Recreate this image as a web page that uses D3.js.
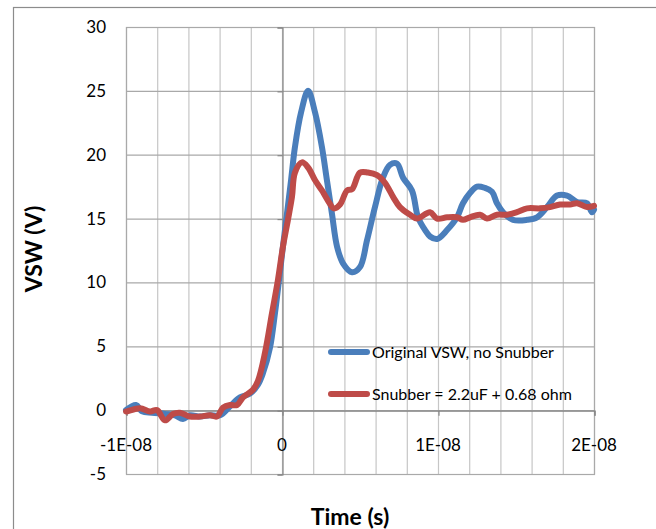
<!DOCTYPE html>
<html><head><meta charset="utf-8">
<script src="https://cdn.jsdelivr.net/npm/d3@7"></script>
<style>body{margin:0;background:#fff}svg{display:block}</style>
</head><body>
<svg id="chart" width="656" height="529"></svg>
<script>
// time in ns, voltage in V
const blueT = [-10.0,-9.36,-8.97,-8.33,-7.5,-6.86,-6.35,-5.9,-5.26,-4.62,-3.97,-3.33,-2.69,-2.05,-1.54,-1.22,-0.77,-0.45,-0.19,0.06,0.32,0.58,0.83,1.22,1.67,2.12,2.56,2.88,3.2,3.53,3.91,4.49,5.0,5.45,5.96,6.47,6.92,7.37,7.76,8.33,8.72,9.17,9.49,9.94,10.58,11.22,11.6,12.05,12.5,13.01,13.46,13.78,14.17,14.81,15.71,16.35,16.99,17.63,18.27,18.91,19.55,19.87,20.0];
const blueV = [0,0.4,-0.1,-0.2,-0.3,-0.4,-0.7,-0.4,-0.5,-0.4,-0.4,0.3,1.0,1.3,2.0,2.9,4.9,7.6,10.2,12.8,15.4,18,20.6,23.3,25.0,23.3,20.6,18,15.4,12.8,11.5,10.8,11.2,13.3,15.9,18.2,19.2,19.3,18.2,17.2,15.1,14.1,13.6,13.4,14.1,15.1,16.2,17,17.5,17.4,17.1,16.2,15.5,14.9,14.9,15.1,15.9,16.8,16.8,16.3,16.2,15.5,15.7];
const redT = [-10.0,-9.94,-9.1,-8.46,-8.01,-7.5,-6.99,-6.54,-5.9,-5.26,-4.62,-4.17,-3.78,-3.33,-2.88,-2.5,-1.86,-1.54,-1.09,-0.64,-0.26,0.06,0.38,0.64,0.83,1.28,1.67,2.12,2.56,2.95,3.33,3.72,4.17,4.49,5.0,5.51,6.09,6.6,7.12,7.56,8.21,8.65,9.49,9.94,10.58,11.22,11.6,12.05,12.69,13.14,13.78,14.42,15.06,15.71,16.54,17.18,17.82,18.46,18.91,19.55,20.0];
const redV = [-0.1,-0.1,0.15,-0.1,0,-0.8,-0.3,-0.2,-0.5,-0.5,-0.4,-0.5,0.2,0.4,0.4,1.0,1.6,2.3,4.5,7.6,10.2,12.8,14.9,16.7,18.6,19.4,19.0,18.0,17.2,16.4,15.8,16.1,17.2,17.3,18.6,18.6,18.4,17.8,16.7,15.9,15.3,15.0,15.5,15.0,15.1,15.1,14.9,15.1,15.3,15.0,15.3,15.3,15.5,15.8,15.8,15.9,16.1,16.1,16.2,15.9,16.0];
const xTickVals = [-10,0,10,20];
const xTickLabels = ["-1E-08","0","1E-08","2E-08"];
const yTickVals = [-5,0,5,10,15,20,25,30];
const seriesNames = ["Original VSW, no Snubber","Snubber = 2.2uF + 0.68 ohm"];
const seriesColors = ["#4a7ebb","#be4b48"];

const svg = d3.select("#chart");
const L=126, R=594, T=27, B=474;
const x = d3.scaleLinear().domain([-10,20]).range([L,R]);
const y = d3.scaleLinear().domain([-5,30]).range([B,T]);
const font = "Lato, 'Liberation Sans', sans-serif";

// outer border
svg.append("rect").attr("x",13.5).attr("y",7.5).attr("width",700).attr("height",600)
  .attr("fill","none").attr("stroke","#8c8c8c").attr("stroke-width",1.2);

const g = svg.append("g");
g.selectAll(".vg").data(d3.range(-10,20.01,2)).join("line")
  .attr("x1",d=>x(d)+0.5).attr("x2",d=>x(d)+0.5).attr("y1",T).attr("y2",B)
  .attr("stroke","#c6c6c6").attr("stroke-width",1.2);
g.selectAll(".hg").data(yTickVals).join("line")
  .attr("x1",L).attr("x2",R).attr("y1",d=>y(d)+0.5).attr("y2",d=>y(d)+0.5)
  .attr("stroke","#a9a9a9").attr("stroke-width",1.2);
svg.append("rect").attr("x",L+0.5).attr("y",T+0.5).attr("width",R-L).attr("height",B-T)
  .attr("fill","none").attr("stroke","#a9a9a9").attr("stroke-width",1.2);

// axes crossing at zero
const xAxis = d3.axisBottom(x).tickValues(xTickVals).tickSize(5).tickFormat("");
svg.append("g").attr("transform",`translate(0.5,${y(0)+0.5})`).call(xAxis)
  .call(s=>{s.selectAll("path,line").attr("stroke","#868686").attr("stroke-width",1.2);});
const yAxis = d3.axisLeft(y).tickValues(yTickVals).tickSize(5).tickFormat("");
svg.append("g").attr("transform",`translate(${x(0)+0.5},0.5)`).call(yAxis)
  .call(s=>{s.selectAll("path,line").attr("stroke","#868686").attr("stroke-width",1.2);});

// tick labels
svg.selectAll(".xl").data(xTickVals).join("text")
  .attr("x",d=>x(d)).attr("y",451).attr("text-anchor","middle")
  .attr("font-family",font).attr("font-size",17).attr("fill","#000")
  .text((d,i)=>xTickLabels[i]);
svg.selectAll(".yl").data(yTickVals).join("text")
  .attr("x",106).attr("y",d=>y(d)+6).attr("text-anchor","end")
  .attr("font-family",font).attr("font-size",17).attr("fill","#000")
  .text(d=>d);

// lines
const line = d3.line().x(d=>x(d[0])).y(d=>y(d[1])).curve(d3.curveCatmullRom.alpha(0.5));
const blue = blueT.map((t,i)=>[t,blueV[i]]);
const red = redT.map((t,i)=>[t,redV[i]]);
[blue,red].forEach((data,i)=>{
  svg.append("path").datum(data).attr("d",line).attr("fill","none")
    .attr("stroke",seriesColors[i]).attr("stroke-width",6)
    .attr("stroke-linejoin","round").attr("stroke-linecap","round");
});

// legend
const legY=[352,394];
seriesNames.forEach((n,i)=>{
  svg.append("line").attr("x1",331).attr("x2",367).attr("y1",legY[i]).attr("y2",legY[i])
    .attr("stroke",seriesColors[i]).attr("stroke-width",6).attr("stroke-linecap","round");
  svg.append("text").attr("x",372).attr("y",legY[i]+5.5).attr("font-family",font)
    .attr("font-size",16).attr("fill","#000").text(n);
});

// axis titles
svg.append("text").attr("x",350).attr("y",525).attr("text-anchor","middle")
  .attr("font-family",font).attr("font-weight","bold").attr("font-size",23).text("Time (s)");
svg.append("text").attr("transform","translate(42,249) rotate(-90)").attr("text-anchor","middle")
  .attr("font-family",font).attr("font-weight","bold").attr("font-size",23).text("VSW (V)");
</script>
</body></html>
